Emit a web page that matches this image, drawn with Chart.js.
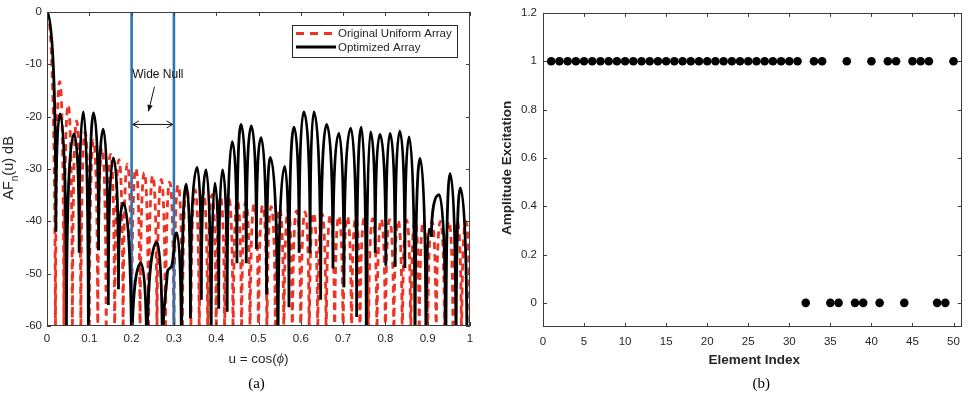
<!DOCTYPE html>
<html><head><meta charset="utf-8">
<script src="https://cdn.jsdelivr.net/npm/chart.js@4.4.0/dist/chart.umd.min.js"></script>
<style>
html,body{margin:0;padding:0;background:#fff;overflow:hidden}
#wrap{position:relative;width:968px;height:396px;background:#fff}
canvas{position:absolute;top:0}
#ca{left:0}#cb{left:484px}
</style></head><body>
<div id="wrap"><canvas id="ca" width="484" height="396"></canvas><canvas id="cb" width="484" height="396"></canvas></div>
<script>
// ---------- Panel (a): normalized array factor (dB) ----------
const uniformU = [0,0.02,0.03,0.04,0.05,0.06,0.07,0.08,0.09,0.10,0.11,0.12,0.13,0.14,0.15,0.16,0.17,0.18,0.19,0.20,0.21,0.22,0.23,0.24,0.25,0.26,0.27,0.28,0.29,0.30,0.31,0.32,0.33,0.34,0.35,0.36,0.37,0.38,0.39,0.40,0.41,0.42,0.43,0.44,0.45,0.46,0.47,0.48,0.49,0.50,0.51,0.52,0.53,0.54,0.55,0.56,0.57,0.58,0.59,0.60,0.61,0.62,0.63,0.64,0.65,0.66,0.67,0.68,0.69,0.70,0.71,0.72,0.73,0.74,0.75,0.76,0.77,0.78,0.79,0.80,0.81,0.82,0.83,0.84,0.85,0.86,0.87,0.88,0.89,0.90,0.91,0.92,0.93,0.94,0.95,0.96,0.97,0.98,0.99,1.00];
const uniformDb = [0,-70,-13.3,-70,-17.8,-70,-20.8,-70,-22.9,-70,-24.6,-70,-26.0,-70,-27.2,-70,-28.2,-70,-29.1,-70,-29.9,-70,-30.7,-70,-31.3,-70,-32.0,-70,-32.5,-70,-33.1,-70,-33.6,-70,-34.0,-70,-34.5,-70,-34.9,-70,-35.3,-70,-35.7,-70,-36.0,-70,-36.3,-70,-36.7,-70,-37.0,-70,-37.2,-70,-37.5,-70,-37.8,-70,-38.0,-70,-38.2,-70,-38.4,-70,-38.6,-70,-38.8,-70,-39.0,-70,-39.1,-70,-39.3,-70,-39.4,-70,-39.5,-70,-39.6,-70,-39.7,-70,-39.8,-70,-39.8,-70,-39.9,-70,-39.9,-70,-40,-70,-40,-70,-40,-70,-40,-70,-40,-70];
const optimizedU = [0,0.021,0.031,0.046,0.064,0.076,0.086,0.098,0.110,0.122,0.133,0.145,0.157,0.169,0.180,0.200,0.222,0.236,0.260,0.273,0.285,0.295,0.307,0.318,0.329,0.339,0.355,0.365,0.376,0.388,0.397,0.406,0.415,0.426,0.438,0.449,0.459,0.471,0.483,0.495,0.506,0.519,0.528,0.546,0.562,0.572,0.584,0.596,0.607,0.622,0.631,0.647,0.661,0.676,0.690,0.702,0.718,0.732,0.743,0.755,0.765,0.776,0.787,0.801,0.811,0.823,0.834,0.846,0.856,0.870,0.882,0.896,0.903,0.909,0.927,0.943,0.953,0.967,0.977,0.993,1.000];
const optimizedDb = [0,-42,-19.5,-62,-23.3,-46,-19.1,-70,-19.3,-45.5,-22.4,-56,-27.9,-53,-36.5,-70,-48,-70,-44,-70,-49.5,-48.5,-42.2,-70,-32.9,-58.5,-29.7,-55,-30.2,-70,-32.7,-56.7,-30.2,-57.3,-24.8,-48,-21.5,-48,-21.8,-45.3,-24,-54,-27.8,-70,-29.5,-56.4,-22,-46,-19.1,-46.1,-19.1,-55,-21.5,-49,-23.2,-52.6,-22.2,-58.3,-22,-70,-22.9,-46,-23.4,-48.5,-23.2,-48.7,-22.8,-48.9,-23.9,-70,-28,-70,-41.5,-43,-34.9,-70,-30.9,-70,-33.6,-70,-60];
const nullEdgesU = [0.2, 0.3];
const xTicksA = [0,0.1,0.2,0.3,0.4,0.5,0.6,0.7,0.8,0.9,1];
const xTickLabelsA = ['0','0.1','0.2','0.3','0.4','0.5','0.6','0.7','0.8','0.9','1'];
const yTicksA = [0,-10,-20,-30,-40,-50,-60];
const yTickLabelsA = ['0','-10','-20','-30','-40','-50','-60'];
const seriesNamesA = ['Original Uniform Array','Optimized Array'];

// ---------- Panel (b): amplitude excitation ----------
const elementIndex = [1,2,3,4,5,6,7,8,9,10,11,12,13,14,15,16,17,18,19,20,21,22,23,24,25,26,27,28,29,30,31,32,33,34,35,36,37,38,39,40,41,42,43,44,45,46,47,48,49,50];
const amplitude = [1,1,1,1,1,1,1,1,1,1,1,1,1,1,1,1,1,1,1,1,1,1,1,1,1,1,1,1,1,1,1,0,1,1,0,0,1,0,0,1,0,1,1,0,1,1,1,0,0,1];
const xTicksB = [0,5,10,15,20,25,30,35,40,45,50];
const xTickLabelsB = ['0','5','10','15','20','25','30','35','40','45','50'];
const yTicksB = [0,0.2,0.4,0.6,0.8,1,1.2];
const yTickLabelsB = ['0','0.2','0.4','0.6','0.8','1','1.2'];

// ---------- shared styling ----------
const SANS = '"Liberation Sans", Arial, Helvetica, sans-serif';
const TXT = '#262626';
const AXC = '#3c3c3c';
const RED = '#ec3424';
const BLUE = '#2b77b6';

function fixedTicks(values){ return (scale)=>{ scale.ticks = values.map(v=>({value:v})); }; }
function labelsFrom(values, labels){ return (v)=>{ const i = values.findIndex(t=>Math.abs(t-v)<1e-9); return i>=0?labels[i]:''; }; }

// Shapes each lobe like a dB pattern: round flat top at peaks, steep (vertical) entry into nulls.
const lobeShapePlugin = {
  id:'lobeShape',
  beforeDatasetDraw(chart, args){
    const ds = chart.data.datasets[args.index];
    if (!ds.lobeShape) return;
    const meta = args.meta, line = meta.dataset, pts = meta.data;
    line.updateControlPoints(chart.chartArea, meta.indexAxis || 'x');
    const A = 0.62, B = 0.62;
    for (let i=0;i<pts.length;i++){
      const p = pts[i], pv = pts[i-1], nx = pts[i+1];
      const isMax = (!pv || pv.y > p.y) && (!nx || nx.y > p.y);
      const isMin = (!pv || pv.y < p.y) && (!nx || nx.y < p.y);
      if (isMax) {
        if (pv) { p.cp1x = p.x - A*(p.x - pv.x); p.cp1y = p.y; }
        if (nx) { p.cp2x = p.x + A*(nx.x - p.x); p.cp2y = p.y; }
      } else if (isMin) {
        if (pv) { p.cp1x = p.x; p.cp1y = p.y - B*(p.y - pv.y); }
        if (nx) { p.cp2x = p.x; p.cp2y = p.y - B*(p.y - nx.y); }
      }
    }
  }
};

function drawBoxTicks(chart, xt, yt){
  const {ctx, chartArea:{left,right,top,bottom}, scales:{x,y}} = chart;
  ctx.save();
  ctx.strokeStyle = AXC; ctx.lineWidth = 1;
  ctx.beginPath();
  const L = 4;
  xt.forEach(v=>{ const p = Math.round(x.getPixelForValue(v))+0.5; ctx.moveTo(p,bottom); ctx.lineTo(p,bottom-L); ctx.moveTo(p,top); ctx.lineTo(p,top+L); });
  yt.forEach(v=>{ const p = Math.round(y.getPixelForValue(v))+0.5; ctx.moveTo(left,p); ctx.lineTo(left+L,p); ctx.moveTo(right,p); ctx.lineTo(right-L,p); });
  ctx.stroke();
  ctx.strokeRect(Math.round(left)+0.5, Math.round(top)+0.5, Math.round(right-left)-1, Math.round(bottom-top)-1);
  ctx.restore();
}

function arrowHeadOpen(ctx, x, y, dir){
  ctx.moveTo(x + dir*6, y-3.5); ctx.lineTo(x, y); ctx.lineTo(x + dir*6, y+3.5);
}

const panelAPlugin = {
  id:'panelA',
  afterDatasetsDraw(chart){
    const {ctx, chartArea:{left,right,top,bottom}, scales:{x,y}} = chart;
    drawBoxTicks(chart, xTicksA, yTicksA);
    ctx.save();
    ctx.fillStyle = '#111'; ctx.strokeStyle = '#111';
    ctx.font = '12px ' + SANS; ctx.textAlign='center'; ctx.textBaseline='middle';
    ctx.fillText('Wide Null', x.getPixelForValue(0.262), y.getPixelForValue(-11.9));
    const ax0 = x.getPixelForValue(0.254), ay0 = y.getPixelForValue(-14.3);
    const ax1 = x.getPixelForValue(0.240), ay1 = y.getPixelForValue(-19.0);
    ctx.lineWidth = 1;
    ctx.beginPath(); ctx.moveTo(ax0, ay0); ctx.lineTo(ax1, ay1); ctx.stroke();
    const ang = Math.atan2(ay1-ay0, ax1-ax0);
    ctx.beginPath();
    ctx.moveTo(ax1, ay1);
    ctx.lineTo(ax1 - 7*Math.cos(ang-0.4), ay1 - 7*Math.sin(ang-0.4));
    ctx.lineTo(ax1 - 7*Math.cos(ang+0.4), ay1 - 7*Math.sin(ang+0.4));
    ctx.closePath(); ctx.fill();
    const hy = y.getPixelForValue(-21.5);
    const hx0 = x.getPixelForValue(0.203), hx1 = x.getPixelForValue(0.297);
    ctx.beginPath(); ctx.moveTo(hx0, hy); ctx.lineTo(hx1, hy);
    arrowHeadOpen(ctx, hx0, hy, 1); arrowHeadOpen(ctx, hx1, hy, -1);
    ctx.stroke();
    // legend
    const bx = right - 178, by = top + 13, bw = 165, bh = 32;
    ctx.fillStyle = '#fff'; ctx.fillRect(bx, by, bw, bh);
    ctx.strokeStyle = '#262626'; ctx.lineWidth = 1;
    ctx.strokeRect(Math.round(bx)+0.5, Math.round(by)+0.5, bw, bh);
    const r1 = by + 8.5, r2 = by + 22;
    ctx.lineWidth = 3;
    ctx.strokeStyle = RED; ctx.setLineDash([8,6]);
    ctx.beginPath(); ctx.moveTo(bx+4, r1); ctx.lineTo(bx+44, r1); ctx.stroke();
    ctx.setLineDash([]);
    ctx.strokeStyle = '#000';
    ctx.beginPath(); ctx.moveTo(bx+4, r2); ctx.lineTo(bx+44, r2); ctx.stroke();
    ctx.fillStyle = TXT; ctx.font = '11.5px ' + SANS; ctx.textAlign='left'; ctx.textBaseline='middle';
    ctx.fillText(seriesNamesA[0], bx+46, r1+0.5);
    ctx.fillText(seriesNamesA[1], bx+46, r2+0.5);
    ctx.restore();
  },
  afterDraw(chart){
    const {ctx, chartArea:{left,right,top,bottom}} = chart;
    ctx.save();
    ctx.fillStyle = TXT;
    const fR = '13.5px ' + SANS, fI = 'italic 14px "Liberation Serif", "DejaVu Serif", serif';
    ctx.font = fR; const w1 = ctx.measureText('u = cos(').width, w3 = ctx.measureText(')').width;
    ctx.font = fI; const w2 = ctx.measureText('\u03D5').width;
    let cx = (left+right)/2 - (w1+w2+w3)/2; const ty = bottom + 33;
    ctx.textBaseline='middle'; ctx.textAlign='left';
    ctx.font = fR; ctx.fillText('u = cos(', cx, ty);
    ctx.font = fI; ctx.fillText('\u03D5', cx+w1, ty);
    ctx.font = fR; ctx.fillText(')', cx+w1+w2, ty);
    const gA = '14.5px ' + SANS, gS = '10px ' + SANS;
    ctx.font = gA; const a1 = ctx.measureText('AF').width, a3 = ctx.measureText('(u) dB').width;
    ctx.font = gS; const a2 = ctx.measureText('n').width;
    ctx.translate(8, (top+bottom)/2 - 1);
    ctx.rotate(-Math.PI/2);
    ctx.textBaseline='alphabetic';
    let sx = -(a1+a2+a3)/2;
    ctx.font = gA; ctx.fillText('AF', sx, 5);
    ctx.font = gS; ctx.fillText('n', sx+a1, 9.5);
    ctx.font = gA; ctx.fillText('(u) dB', sx+a1+a2, 5);
    ctx.restore();
    ctx.save(); ctx.fillStyle='#000'; ctx.font = '15px "Liberation Serif", "Times New Roman", serif';
    ctx.textAlign='center'; ctx.textBaseline='middle';
    ctx.fillText('(a)', (left+right)/2 - 2, bottom + 58);
    ctx.restore();
  }
};

const panelBPlugin = {
  id:'panelB',
  afterDatasetsDraw(chart){ drawBoxTicks(chart, xTicksB, yTicksB); },
  afterDraw(chart){
    const {ctx, chartArea:{left,right,top,bottom}} = chart;
    ctx.save(); ctx.fillStyle = TXT;
    ctx.font = 'bold 13.5px ' + SANS; ctx.textAlign='center'; ctx.textBaseline='middle';
    ctx.fillText('Element Index', (left+right)/2 + 2, bottom + 33);
    ctx.translate(23.5, (top+bottom)/2 - 2); ctx.rotate(-Math.PI/2);
    ctx.fillText('Amplitude Excitation', 0, 0);
    ctx.restore();
    ctx.save(); ctx.fillStyle='#000'; ctx.font = '15px "Liberation Serif", "Times New Roman", serif';
    ctx.textAlign='center'; ctx.textBaseline='middle';
    ctx.fillText('(b)', (left+right)/2 + 9, bottom + 57);
    ctx.restore();
  }
};

const tickFont = {family: SANS, size: 11.5};

new Chart(document.getElementById('ca'), {
  type:'line',
  data:{ datasets:[
    { label: seriesNamesA[1], lobeShape:true, data: optimizedU.map((u,i)=>({x:u, y:optimizedDb[i]})),
      borderColor:'#000', borderWidth:2.8, pointRadius:0, tension:0.4, clip:0 },
    { label:'edge1', data:[{x:nullEdgesU[0], y:0},{x:nullEdgesU[0], y:-60}], borderColor:BLUE, borderWidth:2.6, pointRadius:0, tension:0, clip:0 },
    { label:'edge2', data:[{x:nullEdgesU[1], y:0},{x:nullEdgesU[1], y:-60}], borderColor:BLUE, borderWidth:2.6, pointRadius:0, tension:0, clip:0 },
    { label: seriesNamesA[0], lobeShape:true, data: uniformU.map((u,i)=>({x:u, y:uniformDb[i]})),
      borderColor:RED, borderWidth:2.8, borderDash:[7,5], pointRadius:0, tension:0.4, clip:0 }
  ]},
  options:{
    responsive:false, animation:false, devicePixelRatio:1,
    layout:{padding:{top:9,right:14,left:0,bottom:0}},
    elements:{line:{capBezierPoints:false}},
    plugins:{legend:{display:false}, tooltip:{enabled:false}},
    scales:{
      x:{ type:'linear', min:0, max:1, afterBuildTicks: fixedTicks(xTicksA), afterFit:(s)=>{s.height=70;},
          grid:{display:false, drawTicks:false}, border:{display:false},
          ticks:{font:tickFont, color:TXT, padding:6, maxRotation:0, autoSkip:false, callback: labelsFrom(xTicksA, xTickLabelsA)} },
      y:{ type:'linear', min:-60, max:0, afterBuildTicks: fixedTicks(yTicksA), afterFit:(s)=>{s.width=47;},
          grid:{display:false, drawTicks:false}, border:{display:false},
          ticks:{font:tickFont, color:TXT, padding:5, autoSkip:false, callback: labelsFrom(yTicksA, yTickLabelsA)} }
    }
  },
  plugins:[lobeShapePlugin, panelAPlugin]
});

new Chart(document.getElementById('cb'), {
  type:'line',
  data:{ datasets:[
    { label:'Amplitude', data: elementIndex.map((n,i)=>({x:n, y:amplitude[i]})), showLine:false,
      pointRadius:4.3, pointBackgroundColor:'#000', pointBorderWidth:0, borderColor:'#000', clip:false }
  ]},
  options:{
    responsive:false, animation:false, devicePixelRatio:1,
    layout:{padding:{top:9,right:3,left:0,bottom:0}},
    plugins:{legend:{display:false}, tooltip:{enabled:false}},
    scales:{
      x:{ type:'linear', min:0, max:51, afterBuildTicks: fixedTicks(xTicksB), afterFit:(s)=>{s.height=69;},
          grid:{display:false, drawTicks:false}, border:{display:false},
          ticks:{font:tickFont, color:TXT, padding:8, maxRotation:0, autoSkip:false, callback: labelsFrom(xTicksB, xTickLabelsB)} },
      y:{ type:'linear', min:-0.1, max:1.2, afterBuildTicks: fixedTicks(yTicksB), afterFit:(s)=>{s.width=59;},
          grid:{display:false, drawTicks:false}, border:{display:false},
          ticks:{font:tickFont, color:TXT, padding:6, autoSkip:false, callback: labelsFrom(yTicksB, yTickLabelsB)} }
    }
  },
  plugins:[panelBPlugin]
});
</script>
</body></html>
